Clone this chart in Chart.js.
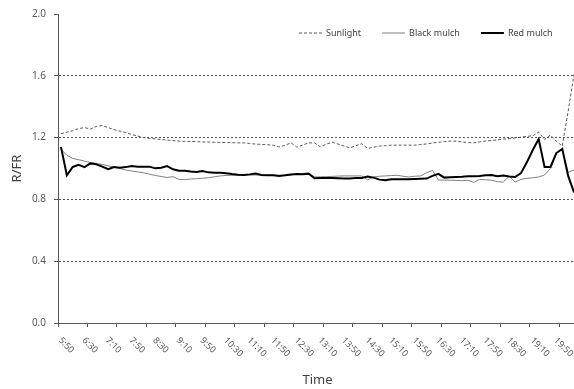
<!DOCTYPE html>
<html>
<head>
<meta charset="utf-8">
<script src="https://cdn.jsdelivr.net/npm/chart.js@4.4.1/dist/chart.umd.min.js"></script>
<style>
html, body { margin: 0; padding: 0; background: #fff; overflow: hidden; }
#wrap { width: 574px; height: 389px; overflow: hidden; }
</style>
</head>
<body>
<div id="wrap"><canvas id="chart" width="578" height="389"></canvas></div>
<script>
// 10-minute readings, 5:50 to 20:20 (the right end of the plot is cut off)
const times = [
    '5:50',
    '6:00', '6:10', '6:20', '6:30', '6:40', '6:50',
    '7:00', '7:10', '7:20', '7:30', '7:40', '7:50',
    '8:00', '8:10', '8:20', '8:30', '8:40', '8:50',
    '9:00', '9:10', '9:20', '9:30', '9:40', '9:50',
    '10:00', '10:10', '10:20', '10:30', '10:40', '10:50',
    '11:00', '11:10', '11:20', '11:30', '11:40', '11:50',
    '12:00', '12:10', '12:20', '12:30', '12:40', '12:50',
    '13:00', '13:10', '13:20', '13:30', '13:40', '13:50',
    '14:00', '14:10', '14:20', '14:30', '14:40', '14:50',
    '15:00', '15:10', '15:20', '15:30', '15:40', '15:50',
    '16:00', '16:10', '16:20', '16:30', '16:40', '16:50',
    '17:00', '17:10', '17:20', '17:30', '17:40', '17:50',
    '18:00', '18:10', '18:20', '18:30', '18:40', '18:50',
    '19:00', '19:10', '19:20', '19:30', '19:40', '19:50',
    '20:00', '20:10', '20:20'
];

const sunlight = [
    1.225, 1.235, 1.245, 1.258, 1.265, 1.255, 1.272, 1.278, 1.265, 1.252,
    1.242, 1.232, 1.22, 1.21, 1.2, 1.195, 1.192, 1.188, 1.184, 1.18,
    1.177, 1.176, 1.175, 1.174, 1.172, 1.171, 1.17, 1.169, 1.168, 1.167,
    1.166, 1.166, 1.162, 1.158, 1.156, 1.154, 1.15, 1.14, 1.15, 1.166,
    1.138, 1.152, 1.166, 1.166, 1.14, 1.158, 1.17, 1.158, 1.145, 1.134,
    1.148, 1.16, 1.13, 1.138, 1.145, 1.148, 1.151, 1.151, 1.151, 1.151,
    1.151, 1.155, 1.159, 1.165, 1.17, 1.174, 1.177, 1.177, 1.172, 1.168,
    1.166, 1.172, 1.178, 1.181, 1.185, 1.19, 1.194, 1.198, 1.203, 1.208,
    1.212, 1.235, 1.188, 1.216, 1.177, 1.145, 1.37, 1.61
];

const blackMulch = [
    1.125, 1.085, 1.065, 1.057, 1.048, 1.038, 1.032, 1.026, 1.018, 1.008,
    1.0, 0.99, 0.984, 0.978, 0.972, 0.963, 0.955, 0.948, 0.942, 0.947,
    0.93, 0.928, 0.932, 0.934, 0.937, 0.94, 0.946, 0.952, 0.955, 0.956,
    0.957, 0.958, 0.958, 0.958, 0.958, 0.957, 0.956, 0.956, 0.956, 0.958,
    0.965, 0.968, 0.972, 0.945, 0.946, 0.947, 0.949, 0.951, 0.952, 0.952,
    0.952, 0.952, 0.926, 0.945, 0.95, 0.952, 0.954, 0.956, 0.95, 0.945,
    0.95, 0.952, 0.973, 0.988, 0.925, 0.925, 0.924, 0.923, 0.921, 0.924,
    0.91, 0.93, 0.927, 0.924, 0.915, 0.912, 0.95, 0.912, 0.93, 0.936,
    0.94, 0.945, 0.958, 1.0, 1.1, 1.123, 0.975, 0.99
];

const redMulch = [
    1.14, 0.956, 1.01, 1.024, 1.009, 1.033, 1.027, 1.012, 0.995, 1.009,
    1.005, 1.009, 1.016, 1.012, 1.012, 1.012, 1.001, 1.005, 1.016, 0.995,
    0.986, 0.985, 0.981, 0.978, 0.984, 0.975, 0.973, 0.972, 0.969, 0.964,
    0.96, 0.958, 0.962, 0.967, 0.958, 0.957, 0.956, 0.952, 0.956, 0.961,
    0.965, 0.963, 0.966, 0.937, 0.938, 0.939, 0.939, 0.937, 0.935, 0.936,
    0.938, 0.939, 0.948, 0.941, 0.928, 0.924, 0.93, 0.93, 0.93, 0.93,
    0.932, 0.934, 0.935, 0.952, 0.965, 0.941, 0.943, 0.945, 0.947, 0.95,
    0.95, 0.952, 0.956, 0.958, 0.95, 0.955, 0.948, 0.945, 0.97, 1.04,
    1.12, 1.19, 1.01, 1.01, 1.10, 1.127, 0.952, 0.845
];

const yTicks = [0, 0.4, 0.8, 1.2, 1.6, 2.0];

const FONT = "'Noto Sans', 'DejaVu Sans', sans-serif";
const AXIS = '#595959';
const CLEAR = 'rgba(0,0,0,0)';

// time labels, every fourth reading, rotated down to the right
const timeLabels = {
    id: 'timeLabels',
    afterDraw(chart) {
        const ctx = chart.ctx;
        const scale = chart.scales.x;
        ctx.save();
        ctx.font = '9px ' + FONT;
        ctx.fillStyle = AXIS;
        ctx.textAlign = 'left';
        ctx.textBaseline = 'middle';
        times.forEach((t, i) => {
            if (i % 4 !== 0) return;
            ctx.save();
            ctx.translate(scale.getPixelForValue(i) - 1, scale.top + 16);
            ctx.rotate(Math.PI / 4);
            ctx.fillText(t, 0, 0);
            ctx.restore();
        });
        ctx.restore();
    }
};

// legend sits inside the plot, top right
const innerLegend = {
    id: 'innerLegend',
    afterDraw(chart) {
        const ctx = chart.ctx;
        let x = 299;
        const y = 33;
        ctx.save();
        ctx.font = '9px ' + FONT;
        ctx.textBaseline = 'middle';
        ctx.textAlign = 'left';
        chart.data.datasets.forEach((ds) => {
            ctx.beginPath();
            ctx.strokeStyle = ds.borderColor;
            ctx.lineWidth = ds.borderWidth;
            ctx.setLineDash(ds.borderDash || []);
            ctx.moveTo(x, y);
            ctx.lineTo(x + 23, y);
            ctx.stroke();
            ctx.setLineDash([]);
            ctx.fillStyle = '#404040';
            ctx.fillText(ds.label, x + 27, y);
            x += 27 + ctx.measureText(ds.label).width + 21;
        });
        ctx.restore();
    }
};

new Chart(document.getElementById('chart'), {
    type: 'line',
    data: {
        labels: times,
        datasets: [
            { label: 'Sunlight', data: sunlight, borderColor: '#595959', borderWidth: 1, borderDash: [3, 2], order: 2 },
            { label: 'Black mulch', data: blackMulch, borderColor: '#808080', borderWidth: 1, order: 1 },
            { label: 'Red mulch', data: redMulch, borderColor: '#000000', borderWidth: 2, order: 0 }
        ]
    },
    options: {
        responsive: false,
        animation: false,
        devicePixelRatio: 1,
        layout: { padding: { left: 0, top: 12, right: 1, bottom: 0 } },
        elements: { point: { radius: 0 }, line: { tension: 0, fill: false } },
        plugins: { legend: { display: false }, tooltip: { enabled: false } },
        scales: {
            x: {
                offset: true,
                ticks: { display: false },
                grid: {
                    offset: true,
                    drawOnChartArea: false,
                    tickLength: 4,
                    tickColor: (c) => (c.index % 5 === 0 ? AXIS : CLEAR)
                },
                border: { color: AXIS },
                title: { display: true, text: 'Time', color: '#404040', font: { size: 13, family: FONT }, padding: { top: 0, bottom: 1 } },
                afterFit: (s) => { s.height = 66; }
            },
            y: {
                min: 0,
                max: 2,
                afterBuildTicks: (s) => { s.ticks = yTicks.map((v) => ({ value: v })); },
                ticks: { callback: (v) => Number(v).toFixed(1), color: AXIS, font: { size: 10, family: FONT }, padding: 8 },
                grid: {
                    color: (c) => (c.tick && c.tick.value > 0 && c.tick.value < 2 ? '#555555' : CLEAR),
                    tickColor: AXIS,
                    tickLength: 4
                },
                border: { color: AXIS, dash: [2, 2] },
                title: { display: true, text: 'R/FR', color: '#404040', font: { size: 13, family: FONT }, padding: { top: 9, bottom: 0 } },
                afterFit: (s) => { s.width = 58; }
            }
        }
    },
    plugins: [timeLabels, innerLegend]
});
</script>
</body>
</html>
